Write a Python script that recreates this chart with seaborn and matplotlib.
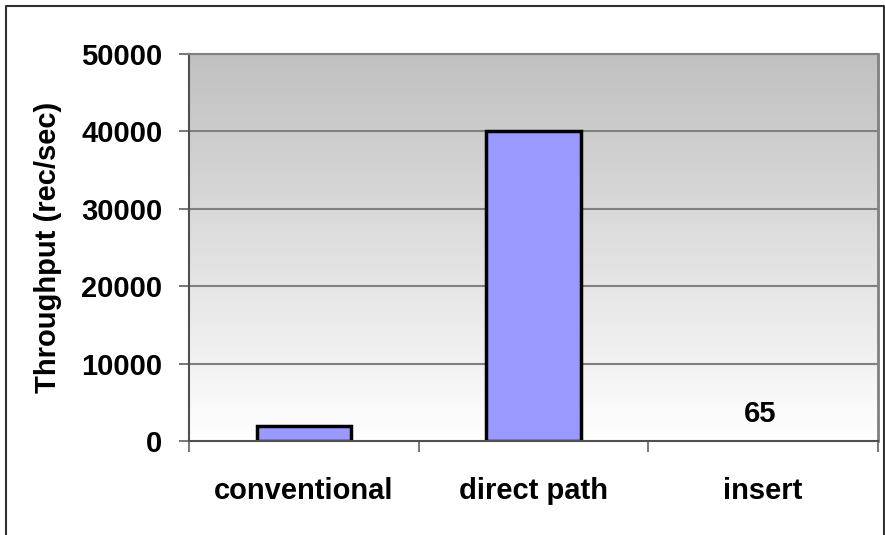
import matplotlib
matplotlib.use("Agg")
import matplotlib.pyplot as plt
import numpy as np
import pandas as pd
import seaborn as sns
from matplotlib.lines import Line2D

categories = ["conventional", "direct path", "insert"]
throughput = [2000, 40000, 65]
labelled = ["insert"]
yticks = [0, 10000, 20000, 30000, 40000, 50000]

df = pd.DataFrame({"method": categories, "throughput": throughput})

sns.set_style("white")
plt.rcParams["font.family"] = ["Liberation Sans", "DejaVu Sans"]
plt.rcParams["font.weight"] = "bold"
plt.rcParams["text.color"] = "black"
plt.rcParams["axes.labelcolor"] = "black"
plt.rcParams["xtick.labelcolor"] = "black"
plt.rcParams["ytick.labelcolor"] = "black"

FS = 21

fig = plt.figure(figsize=(8.85, 5.35), dpi=100)
ax = fig.add_axes([189 / 885, 1 - 441 / 535, (878 - 189) / 885, (441 - 54) / 535])

# grey-to-white gradient background like the Excel plot area
grad = np.linspace(192, 255, 256).reshape(-1, 1) / 255.0
grad = np.dstack([grad, grad, grad])
ax.imshow(grad, extent=[0, 1, 0, 1], transform=ax.transAxes, aspect="auto",
          origin="upper", zorder=0)

for y in yticks[1:]:
    ax.axhline(y, color="#808080", lw=1.5, zorder=1)

sns.barplot(data=df, x="method", y="throughput", color="#9999FF",
            edgecolor="black", linewidth=2.5, width=0.41, saturation=1,
            ax=ax, zorder=3)
# a bar only a pixel tall shows no outline in the original
for p, v in zip(ax.patches, throughput):
    if v < 500:
        p.set_linewidth(0)

for i, (c, v) in enumerate(zip(categories, throughput)):
    if c in labelled:
        ax.annotate(str(v), (i, v), xytext=(-2, 9), textcoords="offset points",
                    ha="center", va="bottom", fontsize=FS, fontweight="bold",
                    color="black")

ax.set_xlim(-0.5, 2.5)
ax.set_ylim(0, 50000)
ax.set_yticks(yticks)
ax.set_yticklabels([str(t) for t in yticks], fontsize=FS, fontweight="bold")
ax.set_xticks([0, 1, 2])
ax.set_xticklabels(categories, fontsize=FS, fontweight="bold")
ax.set_xticks([-0.5, 0.5, 1.5, 2.5], minor=True)
ax.tick_params(axis="x", which="major", bottom=True, length=0, pad=26)
ax.tick_params(axis="x", which="minor", bottom=True, length=8, width=1.2,
               color="#606060", direction="out")
ax.tick_params(axis="y", left=True, length=7, width=1.2, color="#606060",
               direction="out", pad=12)
ax.set_xlabel("")
ax.set_ylabel("Throughput (rec/sec)", fontsize=FS, fontweight="bold", labelpad=14)

ax.spines["left"].set_color("#505050")
ax.spines["left"].set_linewidth(1.5)
ax.spines["bottom"].set_color("#505050")
ax.spines["bottom"].set_linewidth(1.5)
ax.spines["right"].set_color("#808080")
ax.spines["right"].set_linewidth(2)
ax.spines["top"].set_color("#808080")
ax.spines["top"].set_linewidth(1.5)
for s in ax.spines.values():
    s.set_zorder(4)

# outer chart frame (bottom edge is cut off in the original)
x0, x1, y1 = 6 / 885, 884 / 885, 1 - 6 / 535
fig.add_artist(Line2D([x0, x0, x1, x1], [-0.05, y1, y1, -0.05],
                      transform=fig.transFigure, color="#303030", lw=1.5))

fig.savefig("out.png", dpi=100)
plt.close(fig)
